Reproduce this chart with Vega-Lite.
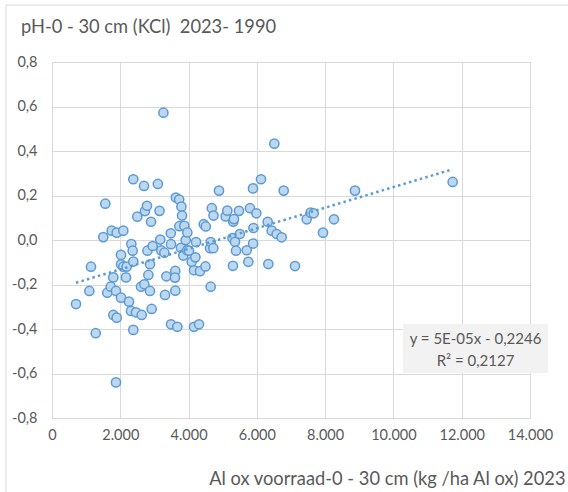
{
  "$schema": "https://vega.github.io/schema/vega-lite/v6.json",
  "width": 478,
  "height": 356,
  "autosize": {"type": "none"},
  "padding": {"left": 52, "top": 62, "right": 38, "bottom": 74},
  "background": "white",
  "config": {
    "view": {"stroke": null},
    "font": "Lato",
    "axis": {
      "grid": true,
      "gridColor": "#d9d9d9",
      "gridWidth": 1,
      "domain": false,
      "ticks": false,
      "tickSize": 0,
      "labelFlush": false,
      "labelColor": "#595959",
      "labelFont": "Lato",
      "labelFontSize": 14.5,
      "titleColor": "#595959",
      "titleFont": "Lato",
      "titleFontWeight": "normal"
    }
  },
  "title": {
    "text": "pH-0 - 30 cm (KCl)\u00a0 2023- 1990",
    "anchor": "start",
    "frame": "group",
    "dx": -31,
    "offset": -47,
    "baseline": "alphabetic",
    "fontSize": 18.3,
    "fontWeight": "normal",
    "color": "#595959",
    "font": "Lato"
  },
  "datasets": {
    "points": [
      {"al": 703, "ph": -0.288}, {"al": 1093, "ph": -0.229}, {"al": 1142, "ph": -0.12}, {"al": 1280, "ph": -0.419},
      {"al": 1502, "ph": 0.013}, {"al": 1561, "ph": 0.163}, {"al": 1620, "ph": -0.237}, {"al": 1719, "ph": -0.21},
      {"al": 1749, "ph": 0.042}, {"al": 1796, "ph": -0.168}, {"al": 1796, "ph": -0.337}, {"al": 1874, "ph": -0.229},
      {"al": 1874, "ph": -0.64}, {"al": 1895, "ph": 0.033}, {"al": 1895, "ph": -0.349}, {"al": 2021, "ph": -0.067},
      {"al": 2021, "ph": -0.109}, {"al": 2021, "ph": -0.259}, {"al": 2088, "ph": 0.042}, {"al": 2088, "ph": -0.12},
      {"al": 2167, "ph": -0.168}, {"al": 2187, "ph": -0.12}, {"al": 2255, "ph": -0.277}, {"al": 2314, "ph": -0.319},
      {"al": 2323, "ph": -0.018}, {"al": 2363, "ph": -0.048}, {"al": 2381, "ph": 0.273}, {"al": 2381, "ph": -0.097},
      {"al": 2381, "ph": -0.404}, {"al": 2460, "ph": -0.325}, {"al": 2498, "ph": 0.105}, {"al": 2607, "ph": -0.21},
      {"al": 2627, "ph": -0.337}, {"al": 2695, "ph": 0.243}, {"al": 2704, "ph": -0.199}, {"al": 2724, "ph": 0.13},
      {"al": 2782, "ph": 0.154}, {"al": 2795, "ph": -0.048}, {"al": 2822, "ph": -0.157}, {"al": 2870, "ph": -0.109},
      {"al": 2870, "ph": -0.229}, {"al": 2900, "ph": 0.082}, {"al": 2919, "ph": -0.31}, {"al": 2948, "ph": -0.027},
      {"al": 3100, "ph": 0.252}, {"al": 3150, "ph": 0.131}, {"al": 3170, "ph": 0.002}, {"al": 3200, "ph": -0.047},
      {"al": 3262, "ph": 0.572}, {"al": 3291, "ph": -0.057}, {"al": 3310, "ph": -0.247}, {"al": 3350, "ph": -0.163},
      {"al": 3480, "ph": 0.03}, {"al": 3485, "ph": -0.019}, {"al": 3485, "ph": -0.379}, {"al": 3610, "ph": -0.139},
      {"al": 3602, "ph": -0.169}, {"al": 3612, "ph": -0.228}, {"al": 3628, "ph": 0.191}, {"al": 3670, "ph": -0.39},
      {"al": 3725, "ph": 0.182}, {"al": 3730, "ph": 0.062}, {"al": 3790, "ph": 0.15}, {"al": 3775, "ph": -0.035},
      {"al": 3808, "ph": 0.11}, {"al": 3846, "ph": -0.07}, {"al": 3875, "ph": 0.064}, {"al": 3915, "ph": 0.0},
      {"al": 3963, "ph": 0.034}, {"al": 3960, "ph": -0.046}, {"al": 4013, "ph": -0.048}, {"al": 4091, "ph": -0.098},
      {"al": 4159, "ph": -0.136}, {"al": 4159, "ph": -0.39}, {"al": 4218, "ph": -0.009}, {"al": 4200, "ph": -0.078},
      {"al": 4306, "ph": -0.379}, {"al": 4335, "ph": -0.14}, {"al": 4445, "ph": 0.071}, {"al": 4505, "ph": 0.061},
      {"al": 4495, "ph": -0.119}, {"al": 4628, "ph": -0.037}, {"al": 4648, "ph": -0.009}, {"al": 4648, "ph": -0.21},
      {"al": 4680, "ph": 0.143}, {"al": 4725, "ph": -0.037}, {"al": 4730, "ph": 0.11}, {"al": 4891, "ph": 0.222},
      {"al": 5086, "ph": 0.106}, {"al": 5135, "ph": 0.132}, {"al": 5285, "ph": 0.009}, {"al": 5300, "ph": -0.116},
      {"al": 5310, "ph": 0.082}, {"al": 5330, "ph": 0.094}, {"al": 5360, "ph": -0.008}, {"al": 5389, "ph": -0.048},
      {"al": 5477, "ph": 0.131}, {"al": 5500, "ph": 0.027}, {"al": 5702, "ph": -0.046}, {"al": 5750, "ph": -0.098},
      {"al": 5799, "ph": 0.143}, {"al": 5890, "ph": -0.016}, {"al": 5887, "ph": 0.232}, {"al": 5900, "ph": 0.054},
      {"al": 5985, "ph": 0.12}, {"al": 6121, "ph": 0.273}, {"al": 6317, "ph": 0.082}, {"al": 6336, "ph": -0.108},
      {"al": 6434, "ph": 0.042}, {"al": 6512, "ph": 0.433}, {"al": 6580, "ph": 0.027}, {"al": 6727, "ph": 0.012},
      {"al": 6786, "ph": 0.222}, {"al": 7117, "ph": -0.117}, {"al": 7459, "ph": 0.093}, {"al": 7576, "ph": 0.123},
      {"al": 7665, "ph": 0.12}, {"al": 7937, "ph": 0.033}, {"al": 8259, "ph": 0.093}, {"al": 8874, "ph": 0.222},
      {"al": 11735, "ph": 0.261}
    ],
    "trend": [
      {"al": 703, "ph": -0.192},
      {"al": 11735, "ph": 0.318}
    ]
  },
  "layer": [
    {
      "data": {"values": [{"frame": "left"}]},
      "mark": {"type": "rule", "color": "#d9d9d9", "strokeWidth": 1, "clip": false},
      "encoding": {
        "x": {"datum": -1347, "type": "quantitative", "scale": {"domain": [0, 14000], "nice": false, "zero": false}},
        "y": {"datum": 1.056, "type": "quantitative", "scale": {"domain": [-0.8, 0.8], "nice": false, "zero": false}},
        "y2": {"datum": -1.2}
      }
    },
    {
      "data": {"values": [{"frame": "top"}]},
      "mark": {"type": "rule", "color": "#d9d9d9", "strokeWidth": 1, "clip": false},
      "encoding": {
        "x": {"datum": -1347, "type": "quantitative"},
        "x2": {"datum": 15200},
        "y": {"datum": 1.056, "type": "quantitative"}
      }
    },
    {
      "data": {"name": "points"},
      "mark": {"type": "point", "shape": "circle", "filled": true, "fill": "#bdd7ee", "stroke": "#5b9bd5", "strokeWidth": 1.5, "size": 85, "opacity": 1, "fillOpacity": 1, "clip": false},
      "encoding": {
        "x": {
          "field": "al", "type": "quantitative",
          "scale": {"domain": [0, 14000], "nice": false, "zero": false},
          "axis": {
            "values": [0, 2000, 4000, 6000, 8000, 10000, 12000, 14000],
            "labelExpr": "replace(format(datum.value, ','), ',', '.')",
            "labelPadding": 10,
            "title": "Al ox voorraad-0 - 30 cm (kg /ha Al ox) 2023",
            "titleFontSize": 18.3,
            "titleAnchor": "end",
            "titleAlign": "right",
            "titleBaseline": "alphabetic",
            "titleX": 513,
            "titleY": 66
          }
        },
        "y": {
          "field": "ph", "type": "quantitative",
          "scale": {"domain": [-0.8, 0.8], "nice": false, "zero": false},
          "axis": {
            "values": [-0.8, -0.6, -0.4, -0.2, 0, 0.2, 0.4, 0.6, 0.8],
            "labelExpr": "replace(replace(format(datum.value, '.1f'), '.', ','), '\u2212', '-')",
            "labelPadding": 15,
            "title": null
          }
        }
      }
    },
    {
      "data": {"name": "trend"},
      "mark": {"type": "line", "color": "#5b9bd5", "strokeWidth": 2.5, "strokeDash": [2.5, 3.2], "strokeCap": "butt"},
      "encoding": {
        "x": {"field": "al", "type": "quantitative"},
        "y": {"field": "ph", "type": "quantitative"}
      }
    },
    {
      "data": {"values": [{"label": "box"}]},
      "mark": {"type": "rect", "fill": "#f2f2f2", "clip": false},
      "encoding": {
        "x": {"datum": 10281, "type": "quantitative"},
        "x2": {"datum": 14528},
        "y": {"datum": -0.3775, "type": "quantitative"},
        "y2": {"datum": -0.598}
      }
    },
    {
      "data": {"values": [{"text": "y = 5E-05x - 0,2246", "py": -0.445}, {"text": "R\u00b2 = 0,2127", "py": -0.544}]},
      "mark": {"type": "text", "font": "Lato", "fontSize": 15, "color": "#595959", "align": "center", "baseline": "middle", "clip": false},
      "encoding": {
        "x": {"datum": 12404, "type": "quantitative"},
        "y": {"field": "py", "type": "quantitative"},
        "text": {"field": "text"}
      }
    }
  ]
}
